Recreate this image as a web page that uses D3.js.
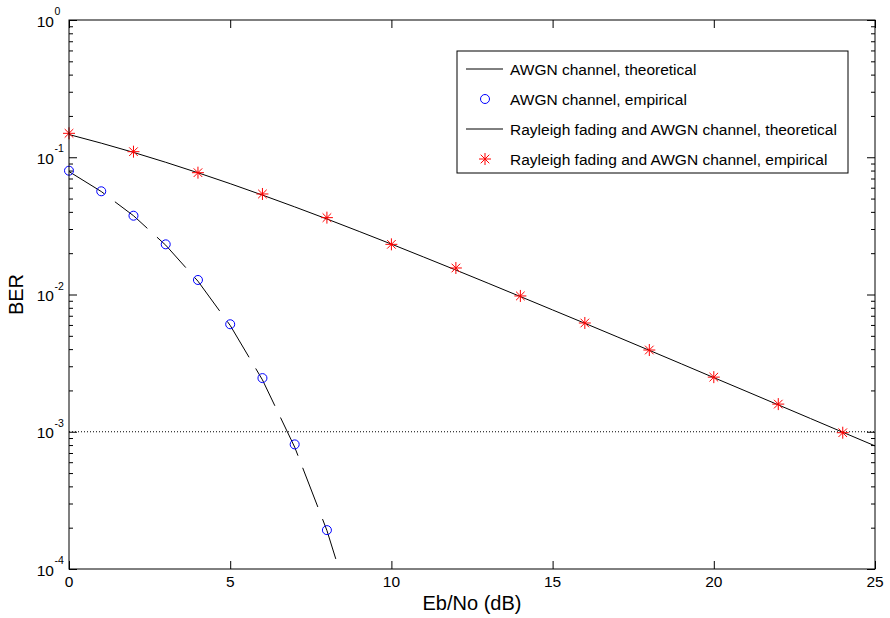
<!DOCTYPE html>
<html>
<head>
<meta charset="utf-8">
<title>BER curves</title>
<script src="https://d3js.org/d3.v7.min.js"></script>
<style>
  body { margin: 0; background: #fff; }
  svg { font-family: "Liberation Sans", Arial, sans-serif; }
</style>
</head>
<body>
<script>
// --- data ---
var awgnTheoX = [0, 1, 2, 3, 4, 5, 6, 7, 8, 9];
var awgnTheo  = [0.07865, 0.05628, 0.03751, 0.02288, 0.01250, 0.005954, 0.002388, 0.0007727, 0.0001909, 0.00003363];
var awgnEmpX  = [0, 1, 2, 3, 4, 5, 6, 7, 8];
var awgnEmp   = [0.0798, 0.0565, 0.0375, 0.0232, 0.01276, 0.00607, 0.00246, 0.000809, 0.000192];
var rayTheoX  = [0, 1, 2, 3, 4, 5, 6, 7, 8, 9, 10, 11, 12, 13, 14, 15, 16, 17, 18, 19, 20, 21, 22, 23, 24, 25];
var rayTheo   = [0.1464, 0.1267, 0.1085, 0.0919, 0.0771, 0.0642, 0.0530, 0.0435, 0.0355, 0.0288, 0.0233,
                 0.01875, 0.01507, 0.01208, 0.00966, 0.00772, 0.00617, 0.00492, 0.00392, 0.00312, 0.00248,
                 0.001974, 0.00157, 0.001248, 0.000992, 0.000789];
var rayEmpX   = [0, 2, 4, 6, 8, 10, 12, 14, 16, 18, 20, 22, 24];
var rayEmp    = [0.1494, 0.1098, 0.0772, 0.0540, 0.0363, 0.0232, 0.0156, 0.00976, 0.0062, 0.00394, 0.0025, 0.00159, 0.000984];
var refLevel  = 0.001;

var xTicks = [0, 5, 10, 15, 20, 25];
var yTicks = [1, 0.1, 0.01, 0.001, 0.0001];
var yExps  = ["0", "-1", "-2", "-3", "-4"];
var legendLabels = ["AWGN channel, theoretical", "AWGN channel, empirical",
                    "Rayleigh fading and AWGN channel, theoretical", "Rayleigh fading and AWGN channel, empirical"];

var margin = {top: 20, right: 15, bottom: 49, left: 69};
var W = 890, H = 618;
var width = W - margin.left - margin.right,
    height = H - margin.top - margin.bottom;

var svg = d3.select("body").append("svg")
    .attr("width", W).attr("height", H);
var g = svg.append("g")
    .attr("transform", "translate(" + margin.left + "," + margin.top + ")");

var x = d3.scaleLinear().domain([0, 25]).range([0, width]);
var y = d3.scaleLog().domain([1e-4, 1]).range([height, 0]);

// minor log ticks
var minors = [];
for (var e = -4; e < 0; e++) {
    for (var m = 2; m <= 9; m++) minors.push(m * Math.pow(10, e));
}

function styleAxis(sel) {
    sel.select(".domain").remove();
    sel.selectAll("line").attr("stroke", "#000").attr("stroke-width", 1);
}

// axes: ticks point inward, labels drawn separately
g.append("g").attr("transform", "translate(0," + height + ")")
    .call(d3.axisBottom(x).tickValues(xTicks).tickSize(-8).tickFormat(""))
    .call(styleAxis);
g.append("g")
    .call(d3.axisTop(x).tickValues(xTicks).tickSize(-8).tickFormat(""))
    .call(styleAxis);
g.append("g")
    .call(d3.axisLeft(y).tickValues(yTicks).tickSize(-8).tickFormat(""))
    .call(styleAxis);
g.append("g")
    .call(d3.axisLeft(y).tickValues(minors).tickSize(-4).tickFormat(""))
    .call(styleAxis);
g.append("g").attr("transform", "translate(" + width + ",0)")
    .call(d3.axisRight(y).tickValues(yTicks).tickSize(-8).tickFormat(""))
    .call(styleAxis);
g.append("g").attr("transform", "translate(" + width + ",0)")
    .call(d3.axisRight(y).tickValues(minors).tickSize(-4).tickFormat(""))
    .call(styleAxis);

// x tick labels
g.selectAll(".xlab").data(xTicks).enter().append("text")
    .attr("x", function(d) { return x(d); })
    .attr("y", height + 18)
    .attr("text-anchor", "middle")
    .attr("font-size", "15.5px")
    .text(function(d) { return d; });

// y tick labels: 10 with superscript
yTicks.forEach(function(v, i) {
    g.append("text")
        .attr("x", -15).attr("y", y(v) + 6.5)
        .attr("text-anchor", "end")
        .attr("font-size", "15.5px")
        .text("10");
    g.append("text")
        .attr("x", -14.5).attr("y", y(v) - 5)
        .attr("font-size", "10.5px")
        .text(yExps[i]);
});

// axis titles
svg.append("text")
    .attr("x", margin.left + width / 2).attr("y", 610)
    .attr("text-anchor", "middle")
    .attr("font-size", "20px")
    .text("Eb/No (dB)");
svg.append("text")
    .attr("transform", "translate(23," + (margin.top + height / 2) + ") rotate(-90)")
    .attr("text-anchor", "middle")
    .attr("font-size", "20px")
    .text("BER");

// clip for lines
svg.append("defs").append("clipPath").attr("id", "plotclip")
    .append("rect").attr("width", width).attr("height", height);
var plot = g.append("g").attr("clip-path", "url(#plotclip)");

// reference line at 1e-3
plot.append("line")
    .attr("x1", 0).attr("x2", width)
    .attr("y1", y(refLevel)).attr("y2", y(refLevel))
    .attr("stroke", "#000").attr("stroke-width", 1)
    .attr("stroke-dasharray", "1,2");

var line = d3.line()
    .x(function(d) { return x(d[0]); })
    .y(function(d) { return y(d[1]); });

plot.append("path")
    .datum(d3.zip(awgnTheoX, awgnTheo))
    .attr("d", line)
    .attr("fill", "none").attr("stroke", "#000").attr("stroke-width", 1)
    .attr("stroke-dasharray", "42,13");

plot.append("path")
    .datum(d3.zip(rayTheoX, rayTheo))
    .attr("d", line)
    .attr("fill", "none").attr("stroke", "#000").attr("stroke-width", 1);

// markers
var starPath = "M-6,0L6,0M0,-6L0,6M-4.3,-4.3L4.3,4.3M-4.3,4.3L4.3,-4.3";

g.selectAll(".circ").data(d3.zip(awgnEmpX, awgnEmp)).enter().append("circle")
    .attr("cx", function(d) { return x(d[0]); })
    .attr("cy", function(d) { return y(d[1]); })
    .attr("r", 4.5)
    .attr("fill", "none").attr("stroke", "#0000ff").attr("stroke-width", 1);

g.selectAll(".star").data(d3.zip(rayEmpX, rayEmp)).enter().append("path")
    .attr("transform", function(d) { return "translate(" + x(d[0]) + "," + y(d[1]) + ")"; })
    .attr("d", starPath)
    .attr("fill", "none").attr("stroke", "#ff0000").attr("stroke-width", 1);

// frame
g.append("rect")
    .attr("width", width).attr("height", height)
    .attr("fill", "none").attr("stroke", "#000").attr("stroke-width", 1);

// legend
var lg = svg.append("g").attr("transform", "translate(457,51)");
lg.append("rect")
    .attr("width", 391).attr("height", 122)
    .attr("fill", "#fff").attr("stroke", "#000").attr("stroke-width", 1);
var rows = lg.selectAll(".row").data(legendLabels).enter().append("g")
    .attr("transform", function(d, i) { return "translate(0," + (18 + i * 30) + ")"; });
rows.append("text")
    .attr("x", 53).attr("y", 5.5)
    .attr("font-size", "15.5px")
    .text(function(d) { return d; });
rows.filter(function(d, i) { return i % 2 === 0; }).append("line")
    .attr("x1", 9).attr("x2", 46)
    .attr("stroke", "#000").attr("stroke-width", 1);
rows.filter(function(d, i) { return i === 1; }).append("circle")
    .attr("cx", 28).attr("r", 4.5)
    .attr("fill", "none").attr("stroke", "#0000ff");
rows.filter(function(d, i) { return i === 3; }).append("path")
    .attr("transform", "translate(28,0)")
    .attr("d", starPath)
    .attr("fill", "none").attr("stroke", "#ff0000");
</script>
</body>
</html>
